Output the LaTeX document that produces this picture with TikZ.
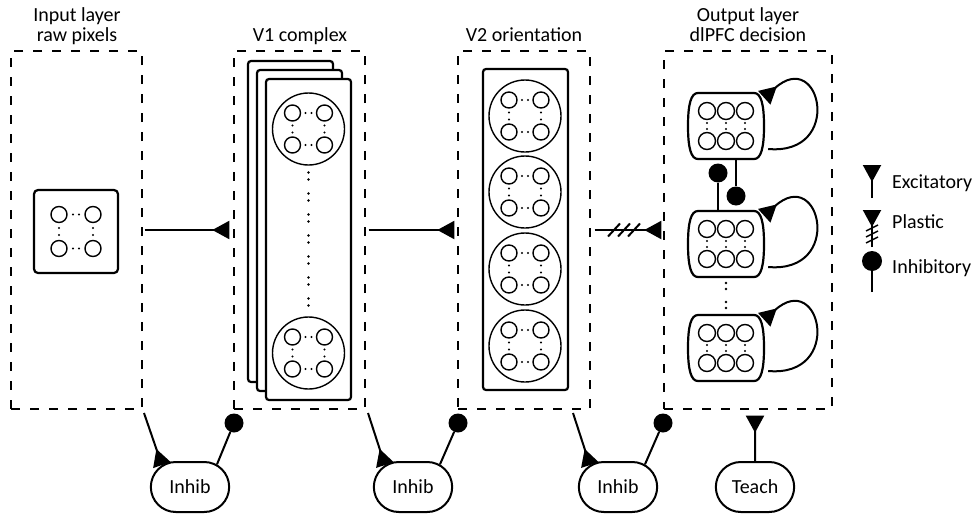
\documentclass[tikz,border=0pt]{standalone}
\usepackage{fontspec}
\setmainfont{Carlito}
\usetikzlibrary{arrows.meta,shapes.misc,calc}

\tikzset{
  layer/.style={draw, dash pattern=on 9pt off 10pt, line width=1.4pt, minimum width=131pt, minimum height=358pt, inner sep=0},
  sheet/.style={draw, fill=white, rounded corners=3pt, line width=2.2pt, minimum width=85pt, minimum height=321pt, inner sep=0},
  unit/.style={line width=1.4pt},
  wire/.style={line width=2pt},
  exc/.style={wire, -{Triangle[reversed,length=17pt,width=18pt]}},
  inhball/.style={circle, fill=black, minimum size=19pt, inner sep=0},
  pool/.style={draw, rounded rectangle, line width=2pt, minimum width=85pt, minimum height=50pt},
  ttl/.style={align=center, anchor=base, font=\fontsize{20}{19.5}\selectfont},
  lgd/.style={anchor=base west, inner sep=0},
}

% 2x2 pixel cell: circles with dots
\newcommand{\quadcell}[3]{%
  \begin{scope}[shift={(#1,#2)}]
    \foreach \i in {-1,1} \foreach \j in {-1,1} \draw[unit] (#3*\i,#3*\j) circle (8pt);
    \foreach \j in {-1,1} {
      \fill (-3,#3*\j) circle (1.2pt); \fill (3,#3*\j) circle (1.2pt);
      \fill (#3*\j,-3.5) circle (1.2pt); \fill (#3*\j,3.5) circle (1.2pt);
    }
  \end{scope}}

% output population with self loop
\newcommand{\outgroup}[3]{%
  \node[minimum width=76pt, minimum height=66pt, inner sep=0] (#1) at (#2,#3) {};
  \begin{scope}[shift={(#2,#3)}]
    \draw[line width=2.2pt] (-28,-33) -- (28,-33) .. controls (35,-33) and (38,-22) .. (38,0) .. controls (38,22) and (35,33) .. (28,33) -- (-28,33) .. controls (-35,33) and (-38,22) .. (-38,0) .. controls (-38,-22) and (-35,-33) .. (-28,-33) -- cycle;
    \foreach \c in {-19,0,19} {
      \draw[unit] (\c,-15) circle (8.5pt);
      \draw[unit] (\c,15) circle (8.5pt);
      \fill (\c,-3) circle (1.2pt);
      \fill (\c,3) circle (1.2pt);
    }
  \end{scope}
  \draw[exc] ([xshift=4pt,yshift=-23pt]#1.east) to[out=-5,in=42,looseness=3.8] ([yshift=-5pt]#1.north east);
}

\begin{document}
\begin{tikzpicture}[x=1pt,y=-1pt,font=\fontsize{20}{24}\selectfont]
\useasboundingbox (0,0) rectangle (974,514);

% layers
\node[layer] (inbox) at (76.5,230) {};
\node[layer] (v1box) at (299.5,230) {};
\node[layer, minimum width=132pt] (v2box) at (524,230) {};
\node[layer, minimum width=168pt] (outbox) at (748,230) {};

\node[ttl] (tin) at (77,41) {Input layer\\raw pixels};
\node[ttl] (tv1) at (300,41) {V1 complex};
\node[ttl] (tv2) at (524,41) {V2 orientation};
\node[ttl] (tout) at (748,41) {Output layer\\dlPFC decision};

% input pixels
\node[sheet, rounded corners=4pt, minimum width=84pt, minimum height=83pt] (pix) at (76,231.5) {};
\quadcell{76}{231.5}{17}

% V1 stack of maps
\node[sheet] (map3) at (290.5,221.5) {};
\node[sheet] (map2) at (299.5,230.5) {};
\node[sheet] (map1) at (308.5,239.5) {};
\draw[unit] (308.5,129) circle (36pt);
\draw[unit] (308.5,353) circle (36pt);
\quadcell{308.5}{129}{16}
\quadcell{308.5}{353}{16}
\foreach \k in {0,...,6} {
  \fill (308.5,176+21*\k-3.5) circle (1.3pt);
  \fill (308.5,176+21*\k+3.5) circle (1.3pt);
}

% V2 column
\node[sheet] (col) at (525.5,229.5) {};
\foreach \y in {116,192,269,346} {
  \draw[unit] (525,\y) circle (36pt);
  \quadcell{525}{\y}{16}
}

% output populations
\outgroup{g1}{726}{126}
\outgroup{g2}{726}{244}
\outgroup{g3}{726}{348}
\node[inhball] (gb1) at (718,173) {};
\node[inhball] (gb2) at (736,196) {};
\draw[wire] (gb1) -- (gb1 |- g2.north);
\draw[wire] (gb2 |- g1.south) -- (gb2);
\foreach \y in {286,305} {
  \fill (726,\y-3) circle (1.3pt);
  \fill (726,\y+3) circle (1.3pt);
}

% feedforward
\draw[exc, shorten <=2pt, shorten >=4pt] (inbox) -- (v1box);
\draw[exc, shorten <=3pt, shorten >=3pt] (v1box) -- (v2box);
\draw[exc, shorten <=4pt, shorten >=2pt] (v2box) -- (outbox);
\coordinate (hatch) at (624,230);
\foreach \d in {-10,0,10}
  \draw[wire] ($(hatch)+(\d-6,6.5)$) -- ++(12,-13);

% inhibitory pools
\node[pool] (inh1) at (190,487) {Inhib};
\node[pool] (inh2) at (413,487) {Inhib};
\node[pool] (inh3) at (618,487) {Inhib};
\node[pool] (teach) at (755,487) {Teach};
\node[inhball] (b1) at (234,423) {};
\node[inhball] (b2) at (458,423) {};
\node[inhball] (b3) at (663,423) {};
\coordinate (s1) at (144,413);
\coordinate (s2) at (368,413);
\coordinate (s3) at (573,413);
\draw[exc] (s1) -- (inh1.142);
\draw[exc] (s2) -- (inh2.142);
\draw[exc] (s3) -- (inh3.142);
\draw[wire] (inh1.40) -- (b1);
\draw[wire] (inh2.40) -- (b2);
\draw[wire] (inh3.40) -- (b3);
\draw[exc, shorten >=6pt] (teach) -- (teach |- outbox.south);

% legend
\coordinate (le0) at (872,198);
\coordinate (le1) at (872,165);
\draw[exc] (le0) -- (le1);
\node[lgd] (lexc) at (892,188) {Excitatory};
\coordinate (lp0) at (872,247);
\coordinate (lp1) at (872,210);
\draw[exc] (lp0) -- (lp1);
\foreach \y in {228,234,240}
  \draw[line width=1.5pt] (866,\y+3) -- (878,\y-3);
\node[lgd] (lpl) at (892,228) {Plastic};
\node[inhball, minimum size=20pt] (lib) at (872,261) {};
\coordinate (li0) at (872,292);
\draw[wire] (li0) -- (lib);
\node[lgd] (linh) at (892,273) {Inhibitory};
\end{tikzpicture}
\end{document}
